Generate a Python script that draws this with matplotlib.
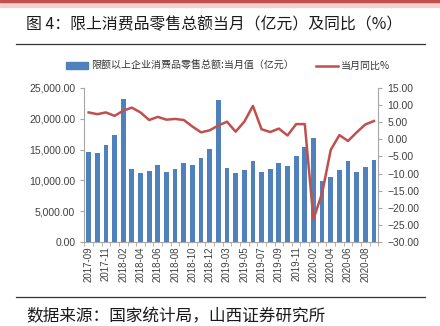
import matplotlib
matplotlib.use("Agg")
import matplotlib.pyplot as plt
from matplotlib.ticker import StrMethodFormatter, FixedLocator
from matplotlib.lines import Line2D
from matplotlib.patches import Rectangle

plt.rcParams['font.family'] = ['Noto Sans CJK SC', 'DejaVu Sans']

# ─────────────────────────────────────────────
# DATA
# ─────────────────────────────────────────────
months = ["2017-09", "2017-10", "2017-11", "2017-12",
          "2018-02", "2018-03", "2018-04", "2018-05", "2018-06", "2018-07",
          "2018-08", "2018-09", "2018-10", "2018-11", "2018-12",
          "2019-02", "2019-03", "2019-04", "2019-05", "2019-06", "2019-07",
          "2019-08", "2019-09", "2019-10", "2019-11", "2019-12",
          "2020-02", "2020-03", "2020-04", "2020-05", "2020-06", "2020-07",
          "2020-08", "2020-09"]

retail_value = [14600, 14390, 15730, 17400,
                23220, 11800, 11210, 11480, 12450, 11370,
                11800, 12770, 12450, 13630, 15030,
                23050, 11960, 11150, 11690, 13200, 11370,
                11800, 12820, 12280, 13950, 15350,
                16860, 9970, 10560, 11640, 13150, 11310,
                12120, 13300]

yoy = [7.8, 7.3, 7.8, 6.8,
       8.3, 9.2, 7.8, 5.6, 6.5, 5.7,
       5.9, 5.6, 3.7, 2.0, 2.6,
       4.0, 5.1, 2.2, 5.1, 9.7, 2.9,
       2.1, 3.1, 1.1, 4.4, 4.4,
       -23.3, -15.7, -3.1, 1.2, -0.5, 2.0,
       4.3, 5.3]

TITLE = "图 4：限上消费品零售总额当月（亿元）及同比（%）"
SOURCE = "数据来源：国家统计局，山西证券研究所"
BAR_LABEL = "限额以上企业消费品零售总额:当月值（亿元）"
LINE_LABEL = "当月同比%"

BAR_COLOR = "#4F81BD"
LINE_COLOR = "#C0504D"
TICK_COLOR = "#404040"
AXIS_COLOR = "#A6A6A6"

# ─────────────────────────────────────────────
# FIGURE
# ─────────────────────────────────────────────
fig = plt.figure(figsize=(4.4, 3.26), dpi=100)

# header band
fig.patches.append(Rectangle((0, 1 - 7 / 326), 1, 7 / 326, transform=fig.transFigure,
                             color="#F2D0D0", zorder=0))
fig.patches.append(Rectangle((0, 1 - 2 / 326), 1, 2 / 326, transform=fig.transFigure,
                             color="#C0504D", zorder=1))

fig.text(26 / 440, 1 - 25 / 326, TITLE, fontsize=11.4, va="center", ha="left", color="#1a1a1a")
fig.add_artist(Line2D([16 / 440, 425 / 440], [1 - 44 / 326] * 2, color="#333333", lw=0.9))
fig.add_artist(Line2D([16 / 440, 425 / 440], [1 - 297 / 326] * 2, color="#333333", lw=0.9))
fig.text(26 / 440, 1 - 317 / 326, SOURCE, fontsize=12, va="center", ha="left", color="#1a1a1a")

ax = fig.add_axes([84.3 / 440, 1 - 242.3 / 326, (378.3 - 84.3) / 440, (242.3 - 87.7) / 326])
ax2 = ax.twinx()

x = list(range(len(months)))
ax.bar(x, retail_value, width=0.55, color=BAR_COLOR, zorder=2)
ax2.plot(x, yoy, color=LINE_COLOR, lw=1.8, zorder=3)

ax.set_xlim(-0.5, len(months) - 0.5)
ax.set_ylim(0, 25000)
ax.set_yticks(range(0, 25001, 5000))
ax.yaxis.set_major_formatter(StrMethodFormatter("{x:,.2f}"))
ax2.set_ylim(-30, 15)
ax2.set_yticks(range(-30, 16, 5))
ax2.yaxis.set_major_formatter(StrMethodFormatter("{x:.2f}"))

ax.set_xticks(x[::2])
ax.set_xticklabels(months[::2], rotation=90, fontsize=7, color=TICK_COLOR,
                   family="Liberation Sans")
ax.xaxis.set_minor_locator(FixedLocator([i - 0.5 for i in range(len(months) + 1)]))
ax.tick_params(axis="x", which="major", length=0, pad=3)
ax.tick_params(axis="x", which="minor", length=3, color=AXIS_COLOR)

for a in (ax, ax2):
    a.tick_params(axis="y", length=3, color=AXIS_COLOR, labelsize=7.5, labelcolor=TICK_COLOR)
    for lab in a.get_yticklabels():
        lab.set_family("Liberation Sans")
    for s in a.spines.values():
        s.set_color(AXIS_COLOR)
        s.set_linewidth(0.8)
    a.spines["top"].set_visible(False)
ax.spines["right"].set_visible(False)
ax2.spines["left"].set_visible(False)
ax2.spines["bottom"].set_visible(False)

handles = [Rectangle((0, 0), 1, 1, color=BAR_COLOR),
           Line2D([0], [0], color=LINE_COLOR, lw=1.8)]
fig.legend(handles, [BAR_LABEL, LINE_LABEL], loc="center", ncol=2,
           bbox_to_anchor=(228 / 440, 1 - 66 / 326), frameon=False,
           fontsize=7.2, handlelength=2.2, handleheight=0.6, columnspacing=2.2,
           handletextpad=0.3, labelcolor="#333333")

fig.savefig("out.png", dpi=100)
